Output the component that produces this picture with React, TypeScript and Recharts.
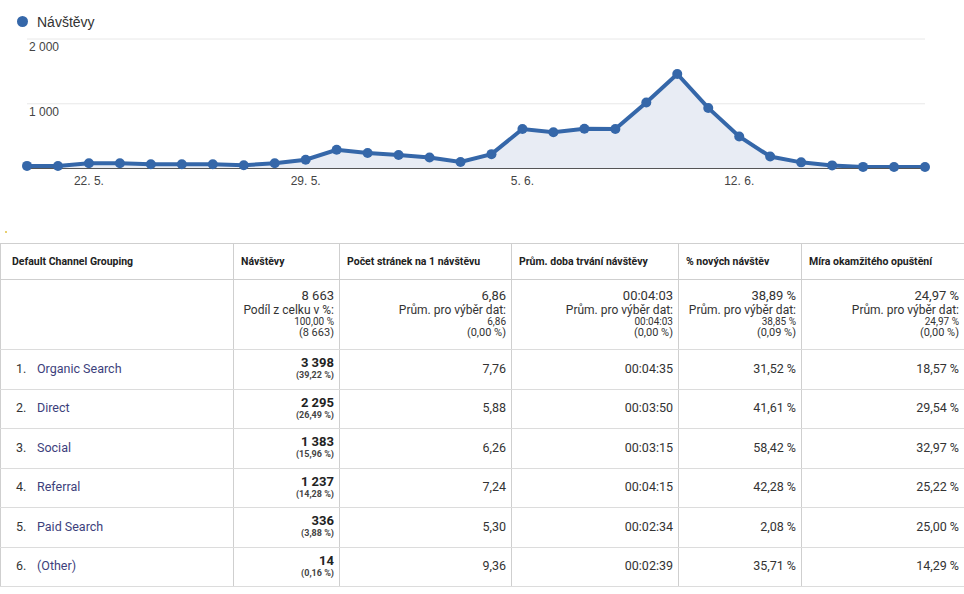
import React from 'react';
import { AreaChart, Area, XAxis, YAxis, CartesianGrid } from 'recharts';

// ---------- chart data ----------
const dates = [
  '20. 5.', '21. 5.', '22. 5.', '23. 5.', '24. 5.', '25. 5.', '26. 5.', '27. 5.', '28. 5.', '29. 5.',
  '30. 5.', '31. 5.', '1. 6.', '2. 6.', '3. 6.', '4. 6.', '5. 6.', '6. 6.', '7. 6.', '8. 6.',
  '9. 6.', '10. 6.', '11. 6.', '12. 6.', '13. 6.', '14. 6.', '15. 6.', '16. 6.', '17. 6.', '18. 6.',
];
const visitsDaily = [
  40, 38, 80, 80, 65, 65, 65, 50, 80, 135,
  290, 240, 208, 170, 100, 222, 610, 560, 615, 610,
  1020, 1460, 935, 495, 185, 95, 48, 25, 22, 22,
];
const xTicks = ['22. 5.', '29. 5.', '5. 6.', '12. 6.'];
const yTicks = [1000, 2000];
const seriesName = 'Návštěvy';

// ---------- table data ----------
const headers = [
  'Default Channel Grouping',
  'Návštěvy',
  'Počet stránek na 1 návštěvu',
  'Prům. doba trvání návštěvy',
  '% nových návštěv',
  'Míra okamžitého opuštění',
];
const totalVisits = '8 663';
const totalPages = '6,86';
const totalDuration = '00:04:03';
const totalNew = '38,89 %';
const totalBounce = '24,97 %';
const avgPages = '6,86';
const avgDuration = '00:04:03';
const avgNew = '38,85 %';
const avgBounce = '24,97 %';
const diffPages = '(0,00 %)';
const diffDuration = '(0,00 %)';
const diffNew = '(0,09 %)';
const diffBounce = '(0,00 %)';

const channels = ['Organic Search', 'Direct', 'Social', 'Referral', 'Paid Search', '(Other)'];
const channelVisits = ['3 398', '2 295', '1 383', '1 237', '336', '14'];
const channelShare = ['(39,22 %)', '(26,49 %)', '(15,96 %)', '(14,28 %)', '(3,88 %)', '(0,16 %)'];
const pagesPerVisit = ['7,76', '5,88', '6,26', '7,24', '5,30', '9,36'];
const avgVisitDuration = ['00:04:35', '00:03:50', '00:03:15', '00:04:15', '00:02:34', '00:02:39'];
const newVisitsPct = ['31,52 %', '41,61 %', '58,42 %', '42,28 %', '2,08 %', '35,71 %'];
const bounceRate = ['18,57 %', '29,54 %', '32,97 %', '25,22 %', '25,00 %', '14,29 %'];

const chartData = dates.map((d, i) => ({ date: d, v: visitsDaily[i] }));

const BLUE = '#3567a9';
const chartFont = '"Liberation Sans", Arial, sans-serif';
const tableFont = 'Roboto, "Noto Sans", sans-serif';

const fmt = (v: number) => String(v).replace(/\B(?=(\d{3})+(?!\d))/g, ' ');

const YTick = (props: any) => {
  const { y, payload } = props;
  return (
    <text x={29} y={y + 12} fontSize={12} fill="#444" fontFamily={chartFont} textAnchor="start">
      {fmt(payload.value)}
    </text>
  );
};

const colWidths = [233, 106, 172, 167, 123, 163];
const vBorder = '1px solid #cfcfcf';
const hBorder = '1px solid #dcdcdc';

const cellBase: React.CSSProperties = {
  borderLeft: vBorder,
  borderRight: vBorder,
  borderTop: hBorder,
  borderBottom: hBorder,
  padding: 0,
  color: '#333',
};

export default function App() {
  return (
    <div
      style={{
        position: 'absolute',
        left: 0,
        top: 0,
        width: 964,
        height: 594,
        background: '#fff',
        overflow: 'hidden',
      }}
    >
      {/* legend */}
      <div
        style={{
          position: 'absolute',
          left: 17,
          top: 12,
          display: 'flex',
          alignItems: 'center',
          fontFamily: chartFont,
          fontSize: 14,
          color: '#333',
          height: 19,
        }}
      >
        <span
          style={{
            display: 'inline-block',
            width: 11,
            height: 11,
            borderRadius: '50%',
            background: BLUE,
            marginRight: 9,
          }}
        />
        <span>{seriesName}</span>
      </div>

      <div style={{ position: 'absolute', left: 0, top: 0 }}>
        <AreaChart
          width={964}
          height={200}
          data={chartData}
          margin={{ top: 39, right: 39, left: 0, bottom: 0 }}
        >
          <CartesianGrid vertical={false} stroke="#e8e8e8" />
          <XAxis
            dataKey="date"
            ticks={xTicks}
            interval={0}
            tickLine={false}
            axisLine={{ stroke: '#555' }}
            tick={{ fontSize: 12, fill: '#444', fontFamily: chartFont }}
            height={31.5}
          />
          <YAxis
            width={27}
            domain={[0, 2000]}
            ticks={yTicks}
            interval={0}
            axisLine={false}
            tickLine={false}
            tick={<YTick />}
          />
          <Area
            type="linear"
            dataKey="v"
            name={seriesName}
            stroke={BLUE}
            strokeWidth={4}
            fill="#e8ecf4"
            fillOpacity={1}
            dot={{ r: 5, fill: BLUE, stroke: BLUE, strokeWidth: 0 }}
            activeDot={false}
            isAnimationActive={false}
          />
        </AreaChart>
      </div>

      {/* tiny artifact dot */}
      <div
        style={{
          position: 'absolute',
          left: 5,
          top: 231,
          width: 2,
          height: 2,
          background: '#e8d070',
        }}
      />

      <table
        style={{
          position: 'absolute',
          left: 0,
          top: 243,
          width: 964,
          borderCollapse: 'collapse',
          tableLayout: 'fixed',
          fontFamily: tableFont,
        }}
      >
        <colgroup>
          {colWidths.map((w, i) => (
            <col key={i} style={{ width: w }} />
          ))}
        </colgroup>
        <tbody>
          <tr style={{ height: 36 }}>
            {headers.map((h, i) => (
              <td
                key={i}
                style={{
                  ...cellBase,
                  borderTop: vBorder,
                  borderBottom: vBorder,
                  fontWeight: 700,
                  fontSize: 10.5,
                  color: '#222',
                  paddingLeft: i === 0 ? 11 : 7,
                  verticalAlign: 'middle',
                  whiteSpace: 'nowrap',
                }}
              >
                {h}
              </td>
            ))}
          </tr>
          <tr style={{ height: 70 }}>
            <td style={{ ...cellBase }} />
            {[
              [totalVisits, 'Podíl z celku v %:', '100,00 %', '(8 663)'],
              [totalPages, 'Prům. pro výběr dat:', avgPages, diffPages],
              [totalDuration, 'Prům. pro výběr dat:', avgDuration, diffDuration],
              [totalNew, 'Prům. pro výběr dat:', avgNew, diffNew],
              [totalBounce, 'Prům. pro výběr dat:', avgBounce, diffBounce],
            ].map((lines, i) => (
              <td
                key={i}
                style={{
                  ...cellBase,
                  textAlign: 'right',
                  verticalAlign: 'top',
                  paddingTop: 8,
                  paddingRight: 5,
                  whiteSpace: 'nowrap',
                }}
              >
                <div style={{ fontSize: 13, lineHeight: '15px' }}>{lines[0]}</div>
                <div style={{ fontSize: 12, lineHeight: '14px' }}>{lines[1]}</div>
                <div style={{ fontSize: 10, lineHeight: '10px' }}>{lines[2]}</div>
                <div style={{ fontSize: 11, lineHeight: '12px' }}>{lines[3]}</div>
              </td>
            ))}
          </tr>
          {channels.map((c, i) => (
            <tr key={c} style={{ height: 39.5 }}>
              <td
                style={{
                  ...cellBase,
                  fontSize: 12.5,
                  paddingLeft: 15,
                  paddingBottom: 2,
                  verticalAlign: 'middle',
                  whiteSpace: 'nowrap',
                }}
              >
                <span style={{ display: 'inline-block', width: 21, color: '#333' }}>{i + 1}.</span>
                <span style={{ color: '#3d3f7c' }}>{c}</span>
              </td>
              <td
                style={{
                  ...cellBase,
                  textAlign: 'right',
                  paddingRight: 5,
                  paddingBottom: 2,
                  verticalAlign: 'middle',
                }}
              >
                <div style={{ fontSize: 13, fontWeight: 700, lineHeight: '14px', color: '#222' }}>
                  {channelVisits[i]}
                </div>
                <div style={{ fontSize: 9, fontWeight: 700, lineHeight: '10px', color: '#444' }}>
                  {channelShare[i]}
                </div>
              </td>
              {[pagesPerVisit[i], avgVisitDuration[i], newVisitsPct[i], bounceRate[i]].map((v, j) => (
                <td
                  key={j}
                  style={{
                    ...cellBase,
                    textAlign: 'right',
                    paddingRight: 5,
                    paddingBottom: 2,
                    fontSize: 12.5,
                    verticalAlign: 'middle',
                  }}
                >
                  {v}
                </td>
              ))}
            </tr>
          ))}
        </tbody>
      </table>
    </div>
  );
}
